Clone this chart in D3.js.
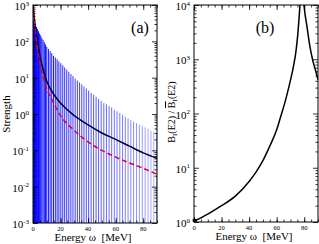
<!DOCTYPE html>
<html>
<head>
<meta charset="utf-8">
<script src="https://cdn.jsdelivr.net/npm/d3@7"></script>
<style>
  body { margin: 0; background: #fff; }
  svg { display: block; }
  text { font-family: "Liberation Serif", "DejaVu Serif", serif; fill: #000; }
</style>
</head>
<body>
<svg id="chart" width="319" height="244"></svg>
<script>
// panel (a): discrete strength lines
const barEnergy = [0.4,1.1,1.8,2.5,3.2,4.0,4.8,5.6,6.4,7.3,8.2,9.1,10.0,11.2,12.4,13.6,14.9,16.2,17.5,18.8,
    20.2,21.6,23.0,24.5,26.0,27.5,29.0,30.6,32.2,33.8,35.4,37.0,38.7,40.4,42.2,44.0,45.8,47.6,49.5,51.4,
    53.3,55.2,57.1,59.0,61.0,63.0,65.0,67.0,69.0,71.0,73.0,75.1,77.2,79.3,81.4,83.5,85.6,87.7,89.8];
const barStrength = [370,320,290,250,220,190,165,145,125,110,95,82,71,62,54,47,40,36,32,28,
    25,22,19,16.6,14.5,12.6,11,9.5,8.3,7.4,6.5,5.7,5.0,4.4,3.8,3.4,3.0,2.6,2.3,2.0,
    1.85,1.65,1.5,1.3,1.2,1.07,0.95,0.85,0.76,0.68,0.62,0.56,0.51,0.47,0.43,0.39,0.35,0.33,0.30];

// panel (a): smooth curves
const curveEnergy = [0, 1, 2, 3.5, 5, 7.5, 10, 15, 20, 30, 40, 50, 60, 70, 80, 90];
const solidStrength = [1000, 420, 200, 85, 40, 16, 8, 3.5, 2, 0.9, 0.5, 0.3, 0.2, 0.13, 0.085, 0.06];
const dashStrength = [1000, 380, 150, 55, 25, 10, 5, 2, 0.9, 0.35, 0.17, 0.1, 0.065, 0.045, 0.032, 0.022];

// panel (b): ratio, two branches around the pole
const ratioEnergyLow = [0.5, 10, 20, 30, 40, 45, 50, 55, 60, 63, 66, 69, 72, 74, 75.5, 76.5, 77.3];
const ratioLow = [1.05, 1.4, 2.0, 3.0, 5.6, 8.3, 13.5, 25, 50, 89, 160, 320, 700, 1400, 3200, 7000, 14000];
const ratioEnergyHigh = [79.3, 80, 82, 84, 86, 88, 90];
const ratioHigh = [14000, 9000, 4000, 1800, 1000, 650, 420];

const xTicks = [0, 20, 40, 60, 80];
const aDecades = [-3, -2, -1, 0, 1, 2, 3];
const bDecades = [0, 1, 2, 3, 4];

const svg = d3.select('#chart');

function minorLog(lo, hi) {
    let out = [];
    for (let e = lo; e < hi; e++) {
        for (let m = 2; m < 10; m++) out.push(m * Math.pow(10, e));
    }
    return out;
}

function drawFrame(g, x, y, w, h, decades) {
    const minorX = d3.range(0, 91, 5);
    const minorY = minorLog(decades[0], decades[decades.length - 1]);
    const majorY = decades.map(d => Math.pow(10, d));

    // inward ticks on all four sides
    g.append('g').attr('transform', `translate(0,${h})`)
        .call(d3.axisBottom(x).tickValues(minorX).tickSize(-2.5).tickFormat(''));
    g.append('g').attr('transform', `translate(0,${h})`)
        .call(d3.axisBottom(x).tickValues(xTicks).tickSize(-5).tickFormat(''));
    g.append('g')
        .call(d3.axisTop(x).tickValues(minorX).tickSize(-2.5).tickFormat(''));
    g.append('g')
        .call(d3.axisTop(x).tickValues(xTicks).tickSize(-5).tickFormat(''));
    g.append('g')
        .call(d3.axisLeft(y).tickValues(minorY).tickSize(-2.5).tickFormat(''));
    g.append('g')
        .call(d3.axisLeft(y).tickValues(majorY).tickSize(-5).tickFormat(''));
    g.append('g').attr('transform', `translate(${w},0)`)
        .call(d3.axisRight(y).tickValues(minorY).tickSize(-2.5).tickFormat(''));
    g.append('g').attr('transform', `translate(${w},0)`)
        .call(d3.axisRight(y).tickValues(majorY).tickSize(-5).tickFormat(''));
    g.selectAll('.domain').remove();
    g.selectAll('.tick line').attr('stroke', '#000').attr('stroke-width', 0.8);

    g.append('rect')
        .attr('width', w).attr('height', h)
        .attr('fill', 'none').attr('stroke', '#000').attr('stroke-width', 1);

    // x tick labels
    g.selectAll('.xlab').data(xTicks).enter().append('text')
        .attr('x', d => x(d))
        .attr('y', h + 7.5)
        .attr('text-anchor', 'middle')
        .attr('font-size', 6.5)
        .text(d => d);

    // y tick labels 10^n
    let labs = g.selectAll('.ylab').data(decades).enter().append('text')
        .attr('x', -4)
        .attr('y', d => y(Math.pow(10, d)) + 5)
        .attr('text-anchor', 'end')
        .attr('font-size', 11);
    labs.append('tspan').text('10');
    labs.append('tspan').attr('dy', -4.5).attr('font-size', 7).text(d => d);

    g.append('text')
        .attr('x', w / 2 - 2)
        .attr('y', h + 18)
        .attr('text-anchor', 'middle')
        .attr('font-size', 11)
        .text('Energy ω\u00a0\u00a0[MeV]');
}

// ---------------- panel (a)
const a = {left: 33, top: 5, width: 124, height: 218};
const ga = svg.append('g').attr('transform', `translate(${a.left},${a.top})`);
const xa = d3.scaleLinear().domain([0, 90]).range([0, a.width]);
const ya = d3.scaleLog().domain([1e-3, 1e3]).range([a.height, 0]);

ga.append('clipPath').attr('id', 'clipA').append('rect')
    .attr('width', a.width).attr('height', a.height);

const barColor = d3.scaleLinear().domain([0, 90]).range(['#0000ff', '#b0b0ff']);

ga.append('g').attr('clip-path', 'url(#clipA)')
    .selectAll('line').data(barEnergy).enter().append('line')
    .attr('x1', d => xa(d)).attr('x2', d => xa(d))
    .attr('y1', a.height)
    .attr('y2', (d, i) => ya(barStrength[i]))
    .attr('stroke', d => barColor(d))
    .attr('stroke-width', 1);

const lineA = d3.line()
    .x(d => xa(d[0]))
    .y(d => ya(d[1]))
    .curve(d3.curveMonotoneX);

ga.append('path').attr('clip-path', 'url(#clipA)')
    .attr('d', lineA(curveEnergy.map((e, i) => [e, solidStrength[i]])))
    .attr('fill', 'none').attr('stroke', '#000033').attr('stroke-width', 1.5);

ga.append('path').attr('clip-path', 'url(#clipA)')
    .attr('d', lineA(curveEnergy.map((e, i) => [e, dashStrength[i]])))
    .attr('fill', 'none').attr('stroke', '#e0002a').attr('stroke-width', 1.5)
    .attr('stroke-dasharray', '5,3');

drawFrame(ga, xa, ya, a.width, a.height, aDecades);

ga.append('text')
    .attr('x', 107).attr('y', 28)
    .attr('text-anchor', 'middle')
    .attr('font-size', 16)
    .text('(a)');

svg.append('text')
    .attr('transform', `translate(10,${a.top + a.height / 2}) rotate(-90)`)
    .attr('text-anchor', 'middle')
    .attr('font-size', 11)
    .text('Strength');

// ---------------- panel (b)
const b = {left: 194, top: 5, width: 124, height: 217};
const gb = svg.append('g').attr('transform', `translate(${b.left},${b.top})`);
const xb = d3.scaleLinear().domain([0, 90]).range([0, b.width]);
const yb = d3.scaleLog().domain([1, 1e4]).range([b.height, 0]);

gb.append('clipPath').attr('id', 'clipB').append('rect')
    .attr('width', b.width).attr('height', b.height);

const lineB = d3.line()
    .x(d => xb(d[0]))
    .y(d => yb(d[1]))
    .curve(d3.curveMonotoneX);

gb.append('path').attr('clip-path', 'url(#clipB)')
    .attr('d', lineB(ratioEnergyLow.map((e, i) => [e, ratioLow[i]])))
    .attr('fill', 'none').attr('stroke', '#000').attr('stroke-width', 1.5);
gb.append('path').attr('clip-path', 'url(#clipB)')
    .attr('d', lineB(ratioEnergyHigh.map((e, i) => [e, ratioHigh[i]])))
    .attr('fill', 'none').attr('stroke', '#000').attr('stroke-width', 1.5);

// small marker at the start of the curve
gb.append('rect')
    .attr('x', xb(0.5) - 2).attr('y', yb(ratioLow[0]) - 2)
    .attr('width', 4).attr('height', 3).attr('fill', '#000');

drawFrame(gb, xb, yb, b.width, b.height, bDecades);

gb.append('text')
    .attr('x', 71).attr('y', 28)
    .attr('text-anchor', 'middle')
    .attr('font-size', 16)
    .text('(b)');

const yLabB = svg.append('text')
    .attr('transform', `translate(175,112) rotate(-90)`)
    .attr('text-anchor', 'middle')
    .attr('font-size', 10);
yLabB.append('tspan').text('B');
yLabB.append('tspan').attr('dy', 2).attr('font-size', 7).text('I');
yLabB.append('tspan').attr('dy', -2).text('(E2)\u00a0/\u00a0');
yLabB.append('tspan').attr('text-decoration', 'overline').text('B');
yLabB.append('tspan').attr('dy', 2).attr('font-size', 7).text('I');
yLabB.append('tspan').attr('dy', -2).text('(E2)');
</script>
</body>
</html>
